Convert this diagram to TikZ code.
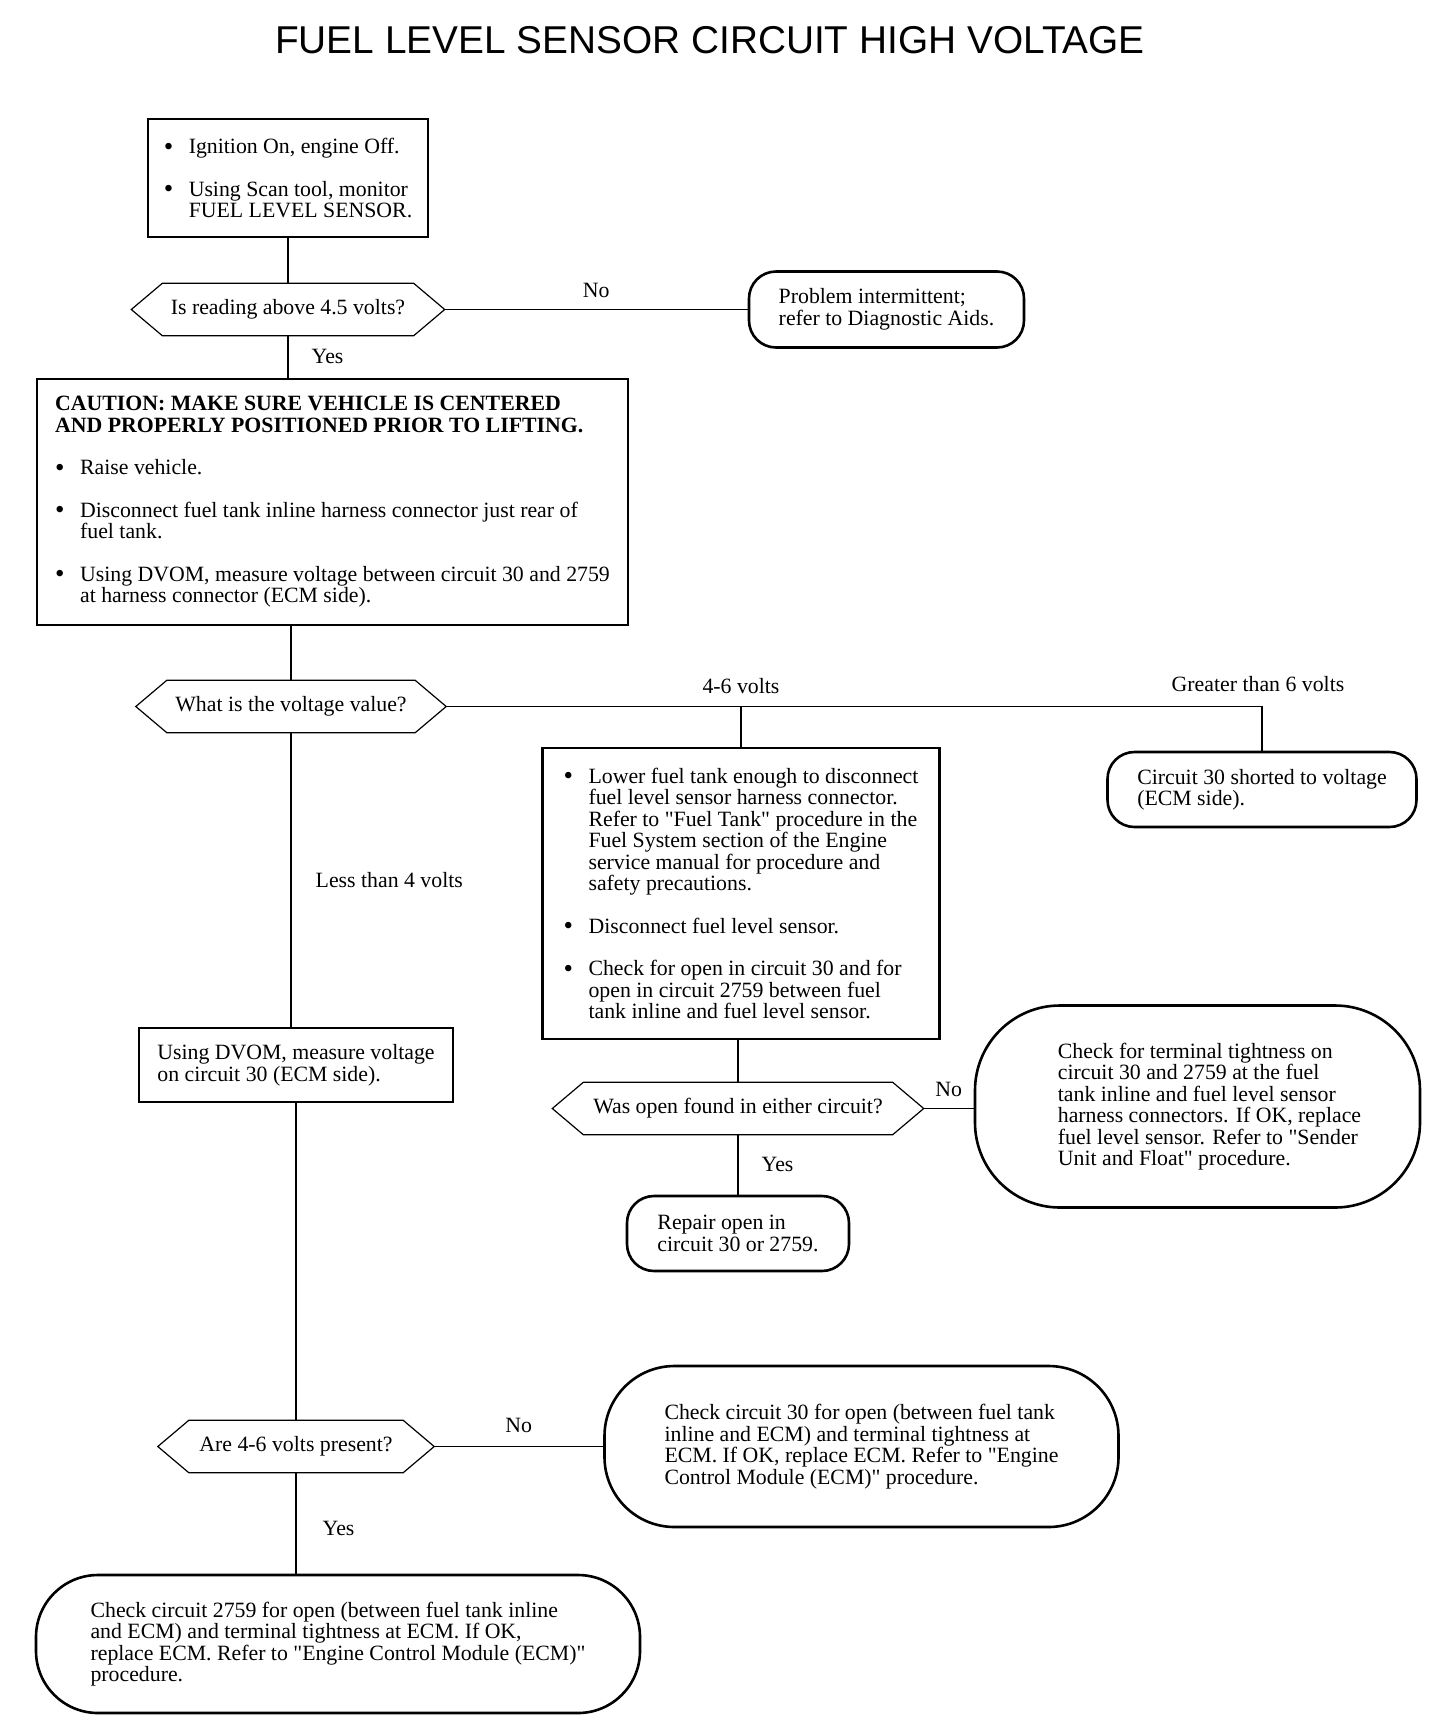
\documentclass[tikz,border=0pt]{standalone}
\usepackage{fontspec}
\setmainfont{Liberation Serif}
\newfontfamily\headfont{Liberation Sans}
\usetikzlibrary{positioning}

\newcommand{\bitem}{\makebox[25pt][l]{\raisebox{-1.5pt}{\fontsize{27}{21.5}\selectfont\textbullet}}}
\newcommand{\bcont}{\hspace*{25pt}}
\newcommand{\qt}{\XeTeXglyph\XeTeXcharglyph"22\relax}
\newcommand{\ind}{\hspace*{24pt}}

\begin{document}
\begin{tikzpicture}[
    x=1pt, y=-1pt,
    node distance=40pt,
    box/.style={
        rectangle,
        draw=black, line width=2.6pt,
        align=left,
        inner sep=0pt,
        font=\fontsize{21.8}{21.5}\selectfont
    },
    terminal/.style={box, rounded corners=#1},
    terminal/.default=27pt,
    decision/.style={
        rectangle,
        inner sep=0pt,
        minimum height=52pt,
        align=center,
        font=\fontsize{21.8}{21.5}\selectfont
    },
    answer/.style={inner sep=0pt, font=\fontsize{21.8}{21.5}\selectfont},
    link/.style={line width=1.4pt}
]
\useasboundingbox (0,0) rectangle (1440,1722);

% Title
\node[font=\headfont\fontsize{38.8}{40}\selectfont] (title) at (710,40)
{FUEL LEVEL SENSOR CIRCUIT HIGH VOLTAGE};

% Scan tool check
\node[box,minimum width=280pt,minimum height=118pt] (start) at (288,178)
{\bitem Ignition On, engine Off.\\[21pt]
 \bitem Using Scan tool, monitor\\
 \bcont FUEL LEVEL SENSOR.};
\node[decision,minimum width=313pt,below=45pt of start] (q1)
{Is reading above 4.5 volts?};
\node[terminal,minimum width=275pt,minimum height=76pt,right=303pt of q1] (intermittent)
{Problem intermittent;\\
 refer to Diagnostic Aids.};

% Caution
\node[box,minimum width=591pt,minimum height=246pt,below=42pt of q1,xshift=44.5pt] (caution)
{\textbf{CAUTION: MAKE SURE VEHICLE IS CENTERED}\\
 \textbf{AND PROPERLY POSITIONED PRIOR TO LIFTING.}\\[21pt]
 \bitem Raise vehicle.\\[21pt]
 \bitem Disconnect fuel tank inline harness connector just rear of\\
 \bcont fuel tank.\\[21pt]
 \bitem Using DVOM, measure voltage between circuit 30 and 2759\\
 \bcont at harness connector (ECM side).};

% Voltage value
\node[decision,minimum width=310pt,below=54pt of caution,xshift=-41.5pt] (q2)
{What is the voltage value?};
\node[box,minimum width=397pt,minimum height=291pt,below right=14pt and 95pt of q2] (lower)
{\bitem Lower fuel tank enough to disconnect\\
 \bcont fuel level sensor harness connector.\\
 \bcont Refer to \qt Fuel Tank\qt{} procedure in the\\
 \bcont Fuel System section of the Engine\\
 \bcont service manual for procedure and\\
 \bcont safety precautions.\\[21pt]
 \bitem Disconnect fuel level sensor.\\[21pt]
 \bitem Check for open in circuit 30 and for\\
 \bcont open in circuit 2759 between fuel\\
 \bcont tank inline and fuel level sensor.};
\node[terminal,minimum width=309pt,minimum height=75pt,below right=18pt and 660pt of q2] (shorted)
{Circuit 30 shorted to voltage\\
 (ECM side).};

% Open check
\node[decision,minimum width=371pt,below=42pt of lower,xshift=-3pt] (q3)
{Was open found in either circuit?};
\node[terminal=85pt,minimum width=445pt,minimum height=202pt,right=50pt of q3,yshift=2pt] (tight)
{\ind Check for terminal tightness on\\
 \ind circuit 30 and 2759 at the fuel\\
 \ind tank inline and fuel level sensor\\
 \ind harness connectors. If OK, replace\\
 \ind fuel level sensor. Refer to \qt Sender\\
 \ind Unit and Float\qt{} procedure.};
\node[terminal,minimum width=222pt,minimum height=75pt,below=60pt of q3] (repair)
{Repair open in\\
 circuit 30 or 2759.};

% Less than 4 volts
\node[box,minimum width=314pt,minimum height=74pt,below=294pt of q2,xshift=5pt] (dvom)
{Using DVOM, measure voltage\\
 on circuit 30 (ECM side).};
\node[decision,minimum width=276pt,below=317pt of dvom] (q4)
{Are 4-6 volts present?};
\node[terminal=70pt,minimum width=514pt,minimum height=161pt,right=169pt of q4] (ecm30)
{Check circuit 30 for open (between fuel tank\\
 inline and ECM) and terminal tightness at\\
 ECM. If OK, replace ECM. Refer to \qt Engine\\
 Control Module (ECM)\qt{} procedure.};
\node[terminal=62pt,minimum width=604pt,minimum height=138pt,below=101pt of q4,xshift=42pt] (ecm2759)
{Check circuit 2759 for open (between fuel tank inline\\
 and ECM) and terminal tightness at ECM. If OK,\\
 replace ECM. Refer to \qt Engine Control Module (ECM)\qt\\
 procedure.};

% Decision outlines
\foreach \q in {q1,q2,q3,q4}
  \draw[line width=1.2pt] (\q.west) -- ([xshift=31pt]\q.north west)
    -- ([xshift=-31pt]\q.north east) -- (\q.east)
    -- ([xshift=-31pt]\q.south east) -- ([xshift=31pt]\q.south west) -- cycle;

% Connectors
\draw[link] (start.south) -- (q1.north);
\draw[link] (q1.east) -- node[answer,above=11pt] {No} (q1.east -| intermittent.west);
\draw[link] (q1.south) -- node[answer,right=23pt] {Yes} (q1.south |- caution.north);
\draw[link] (q2.north |- caution.south) -- (q2.north);
\draw[link] (q2.east) -- (shorted.north |- q2.east)
    node[answer,above=14pt,xshift=-4pt] {Greater than 6 volts} -- (shorted.north);
\draw[link] (lower.north |- q2.east) node[answer,above=12pt] {4-6 volts} -- (lower.north);
\draw[link] (q2.south) -- node[answer,right=24pt] {Less than 4 volts} (q2.south |- dvom.north);
\draw[link] (q3.north |- lower.south) -- (q3.north);
\draw[link] (q3.east) -- node[answer,above=11pt] {No} (q3.east -| tight.west);
\draw[link] (q3.south) -- node[answer,right=23pt] {Yes} (repair.north);
\draw[link] (q4.north |- dvom.south) -- (q4.north);
\draw[link] (q4.east) -- node[answer,above=13pt] {No} (q4.east -| ecm30.west);
\draw[link] (q4.south) -- node[answer,right=26pt,pos=0.55] {Yes} (q4.south |- ecm2759.north);

\end{tikzpicture}
\end{document}
